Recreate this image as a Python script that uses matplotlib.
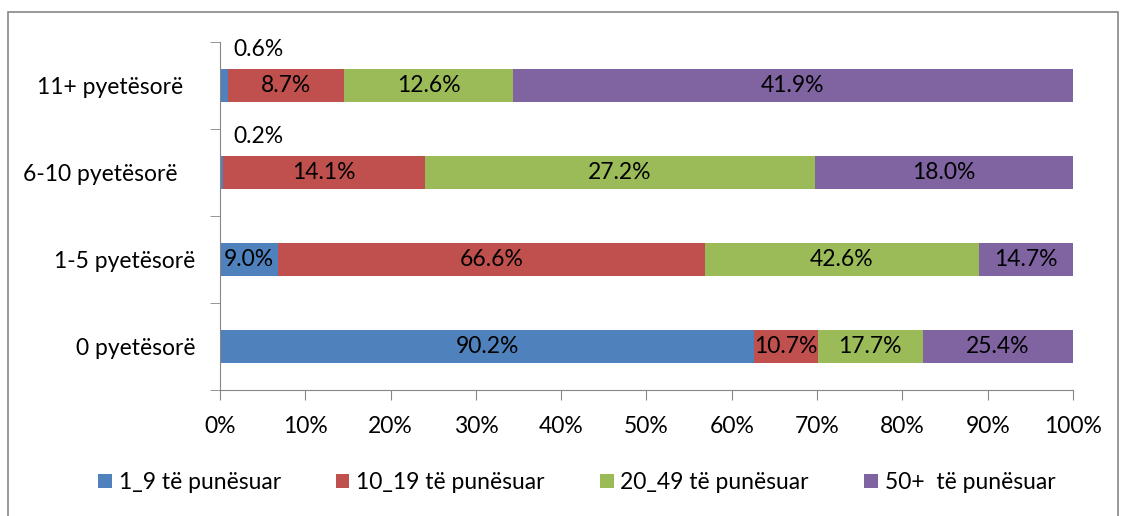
import matplotlib.pyplot as plt
import matplotlib.patches as mpatches
import numpy as np

# --- DATA ---
categories = ["0 pyetësorë", "1-5 pyetësorë", "6-10 pyetësorë   ", "11+ pyetësorë  "]
series_names = ["1_9 të punësuar", "10_19 të punësuar", "20_49 të punësuar", "50+  të punësuar"]
emp_1_9 = [90.2, 9.0, 0.2, 0.6]
emp_10_19 = [10.7, 66.6, 14.1, 8.7]
emp_20_49 = [17.7, 42.6, 27.2, 12.6]
emp_50_plus = [25.4, 14.7, 18.0, 41.9]
x_ticks = [0, 10, 20, 30, 40, 50, 60, 70, 80, 90, 100]

colors = ["#4F81BD", "#C0504D", "#9BBB59", "#8064A2"]
axis_gray = "#868686"
fs = 16.5

plt.rcParams['font.family'] = ['Lato', 'DejaVu Sans']

values = np.array([emp_1_9, emp_10_19, emp_20_49, emp_50_plus])
# each bar is a 100% stack of its row
shares = values / values.sum(axis=0) * 100

fig = plt.figure(figsize=(11.26, 5.16), dpi=100)
ax = fig.add_axes([0.1954, 0.2442, 0.7575, 0.6744])

# chart border
fig.patches.append(mpatches.Rectangle((8 / 1126, -0.01), 1110 / 1126, 1 - 12 / 516 + 0.01,
                                      transform=fig.transFigure, fill=False,
                                      edgecolor=axis_gray, linewidth=1.2))

y = np.arange(len(categories))
left = np.zeros(len(categories))
for i, name in enumerate(series_names):
    ax.barh(y, shares[i], left=left, height=0.39, color=colors[i], label=name)
    for j in range(len(categories)):
        v = values[i][j]
        if v < 1:
            ax.text(left[j] + 4.5, y[j] + 0.41, f"{v:.1f}%", ha='center', va='center', fontsize=fs, color='black')
        else:
            ax.text(left[j] + shares[i][j] / 2, y[j], f"{v:.1f}%", ha='center', va='center', fontsize=fs, color='black')
    left += shares[i]

ax.set_xlim(0, 100)
ax.set_ylim(-0.5, len(categories) - 0.5)
ax.set_xticks(x_ticks)
ax.set_xticklabels([f"{t}%" for t in x_ticks], fontsize=fs)
ax.set_yticks(y)
ax.set_yticklabels(categories, fontsize=fs)
ax.set_yticks(np.arange(-0.5, len(categories), 1), minor=True)
ax.tick_params(axis='y', which='major', length=0, pad=18)
ax.tick_params(axis='y', which='minor', length=7, color=axis_gray, direction='out')
ax.tick_params(axis='x', length=7, color=axis_gray, direction='out', pad=12)

ax.spines['top'].set_visible(False)
ax.spines['right'].set_visible(False)
ax.spines['left'].set_color(axis_gray)
ax.spines['bottom'].set_color(axis_gray)

fig.legend(loc='center', bbox_to_anchor=(0.512, 0.065), ncol=4, frameon=False,
           fontsize=fs, handlelength=0.6, handleheight=0.6, handletextpad=0.3, columnspacing=2.4)

plt.savefig("out.png", dpi=100)
plt.close()
